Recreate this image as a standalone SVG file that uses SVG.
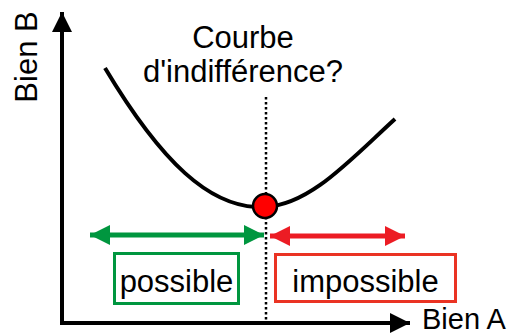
<svg xmlns="http://www.w3.org/2000/svg" width="516" height="336" viewBox="0 0 516 336">
<style>
text{font-family:"Liberation Sans",Arial,sans-serif;font-size:31px;fill:#000}
.ax{stroke:#000;stroke-width:4;fill:none}
</style>
<defs>
<marker id="ah" viewBox="0 0 20 20" refX="20" refY="10" markerWidth="20" markerHeight="20" markerUnits="userSpaceOnUse" orient="auto"><path d="M0,0L20,10L0,20z" fill="#000"/></marker>
<marker id="gh" viewBox="0 0 20 20" refX="20" refY="10" markerWidth="20" markerHeight="20" markerUnits="userSpaceOnUse" orient="auto-start-reverse"><path d="M0,0L20,10L0,20z" fill="#00963f"/></marker>
<marker id="rh" viewBox="0 0 20 20" refX="20" refY="10" markerWidth="20" markerHeight="20" markerUnits="userSpaceOnUse" orient="auto-start-reverse"><path d="M0,0L20,10L0,20z" fill="#ec1c24"/></marker>
</defs>
<g id="axes">
<line class="ax" x1="62" y1="325" x2="62" y2="12" marker-end="url(#ah)"/>
<line class="ax" x1="60" y1="323" x2="410" y2="323" marker-end="url(#ah)"/>
<text x="37" y="57" text-anchor="middle" transform="rotate(-90 37 57)">Bien B</text>
<text x="422" y="329" style="font-size:29px">Bien A</text>
</g>
<g id="title"><text x="243" y="48" text-anchor="middle">Courbe</text><text x="243" y="82" text-anchor="middle">d'indifférence?</text></g>
<g id="connectors">
<line x1="266" y1="97" x2="266" y2="322" stroke="#000" stroke-width="2.5" stroke-dasharray="2.5,2.5"/>
<path d="M105,68 C160,160 210,210 265,207 C310,205 350,160 395,119" fill="none" stroke="#000" stroke-width="4"/>
<line x1="90" y1="235" x2="264" y2="235" stroke="#00963f" stroke-width="5" marker-start="url(#gh)" marker-end="url(#gh)"/>
<line x1="270" y1="236" x2="405" y2="236" stroke="#ec1c24" stroke-width="5" marker-start="url(#rh)" marker-end="url(#rh)"/>
</g>
<g id="point"><circle cx="265" cy="206" r="12" fill="#ff0000" stroke="#000" stroke-width="2.5"/></g>
<g id="possible"><rect x="114.5" y="253.5" width="124" height="50" fill="#fff" stroke="#00963f" stroke-width="3"/><text x="176.5" y="292" text-anchor="middle">possible</text></g>
<g id="impossible"><rect x="275.5" y="254.5" width="180" height="47" fill="#fff" stroke="#ea3323" stroke-width="3"/><text x="365.5" y="292" text-anchor="middle">impossible</text></g>
</svg>
